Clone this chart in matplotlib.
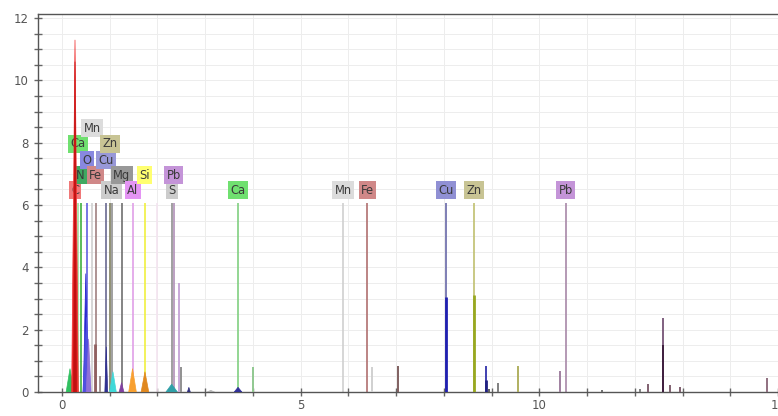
import matplotlib
matplotlib.use('Agg')
import matplotlib.pyplot as plt
from matplotlib.ticker import MultipleLocator

# ---- element marker lines (energy keV) with labels ----
marker_labels = ['C', 'N', 'Ca', 'O', 'Mn', 'Fe', 'Cu', 'Zn', 'Na', 'Mg', 'Al', 'Si', '',
                 'S', 'Pb', 'Ca', 'Mn', 'Fe', 'Cu', 'Zn', 'Pb']
marker_energy = [0.277, 0.392, 0.341, 0.525, 0.637, 0.705, 0.930, 1.012, 1.041, 1.254, 1.487,
                 1.740, 2.000, 2.307, 2.346, 3.690, 5.895, 6.400, 8.040, 8.630, 10.550]
marker_row = [0, 1, 3, 2, 4, 1, 2, 3, 0, 1, 0, 1, 0, 0, 1, 0, 0, 0, 0, 0, 0]
marker_line_color = ['#e03030', '#40b040', '#a0e0a0', '#6060e0', '#d0d0d0', '#a08080',
                     '#6a6a90', '#808060', '#909090', '#707070', '#e0a0e8', '#f0f040',
                     '#f4e4f0', '#909090', '#b090b8', '#80d080', '#d0d0d0', '#b07070',
                     '#6868a8', '#c0c070', '#a888a8']
marker_box_color = ['#f07878', '#40a860', '#70e070', '#8888e0', '#dcdcdc', '#d08888',
                    '#9898d8', '#c8c494', '#cccccc', '#989898', '#e494f4', '#ffff70',
                    '#ffffff', '#cccccc', '#c494d8', '#70e070', '#dcdcdc', '#d08888',
                    '#9090d4', '#c8c494', '#c494d8']
marker_top = 6.05
row_y = [6.48, 6.96, 7.44, 7.96, 8.47]

# ---- spectrum peaks: centre (keV), height (counts), half width (keV), colour ----
peak_center = [0.17, 0.275, 0.275, 0.50, 0.52, 0.56, 0.70, 0.80, 0.93, 1.07, 1.25, 1.48,
               1.74, 2.30, 2.45, 2.49, 2.66, 3.12, 3.69, 4.01, 6.49, 7.04, 8.04, 8.63,
               8.88, 8.88, 8.95, 9.13, 9.55, 10.43, 11.31, 12.10, 12.27, 12.60, 12.60,
               12.73, 12.94, 14.76]
peak_height = [0.75, 11.3, 10.6, 3.8, 2.4, 1.7, 1.55, 0.5, 1.45, 0.65, 0.3, 0.75,
               0.65, 0.25, 3.5, 0.8, 0.15, 0.05, 0.15, 0.8, 0.8, 0.83, 3.05, 3.1,
               0.85, 0.4, 0.1, 0.3, 0.83, 0.68, 0.08, 0.1, 0.25, 2.37, 1.5,
               0.22, 0.15, 0.46]
peak_width = [0.08, 0.07, 0.03, 0.05, 0.08, 0.05, 0.02, 0.01, 0.03, 0.07, 0.05, 0.08,
              0.08, 0.12, 0.01, 0.01, 0.03, 0.08, 0.08, 0.01, 0.01, 0.01, 0.02, 0.02,
              0.01, 0.02, 0.01, 0.01, 0.01, 0.01, 0.01, 0.01, 0.01, 0.01, 0.01,
              0.01, 0.01, 0.01]
peak_color = ['#30c060', '#f03030', '#c01010', '#2828d0', '#5050e0', '#9070d8', '#906060',
              '#a09090', '#303090', '#40d8d8', '#8040a0', '#f8a030', '#e08820', '#30a0a8',
              '#c8a8d8', '#909090', '#303080', '#b0b0b0', '#303098', '#90c890', '#d0d0d0',
              '#806060', '#2020b0', '#98a820', '#4040b0', '#202080', '#606060', '#808080',
              '#b0b060', '#a080a0', '#707070', '#808080', '#806070', '#806080', '#402040',
              '#806070', '#806070', '#907080']

fig = plt.figure(figsize=(7.78, 4.16), dpi=100)
ax = fig.add_axes([38 / 778, (416 - 392) / 416, 740 / 778, (392 - 14) / 416])
ax.set_xlim(-0.5, 15.0)
ax.set_ylim(0, 12.13)

# grid
ax.xaxis.set_major_locator(MultipleLocator(5))
ax.xaxis.set_minor_locator(MultipleLocator(1))
ax.yaxis.set_major_locator(MultipleLocator(2))
ax.yaxis.set_minor_locator(MultipleLocator(0.5))
ax.grid(True, which='both', color='#ededed', linewidth=0.7, zorder=0)
ax.set_axisbelow(True)

# marker lines
for e, c in zip(marker_energy, marker_line_color):
    ax.vlines(e, 0, marker_top, colors=c, linewidth=1.2, zorder=2)

# spectrum peaks
for c, h, w, col in zip(peak_center, peak_height, peak_width, peak_color):
    if w <= 0.012:
        ax.vlines(c, 0, h, colors=col, linewidth=1.4, zorder=4)
    elif w <= 0.02:
        ax.vlines(c, 0, h, colors=col, linewidth=2.0, zorder=4)
    else:
        ax.fill([c - w, c, c + w], [0, h, 0], color=col, linewidth=0.5, zorder=4)

# labels
for lab, e, r, bc in zip(marker_labels, marker_energy, marker_row, marker_box_color):
    if not lab:
        continue
    ax.text(e, row_y[r], lab, ha='center', va='center', fontsize=8.3, color='#3a3a3a',
            zorder=3, bbox=dict(boxstyle='square,pad=0.2', fc=bc, ec='none'))

ax.spines['right'].set_visible(False)
for side in ['left', 'top', 'bottom']:
    ax.spines[side].set_color('#555555')
    ax.spines[side].set_linewidth(1.0)

ax.tick_params(axis='both', which='both', direction='inout', length=6, width=1,
               color='#666666', labelsize=8.5, labelcolor='#555555')
ax.tick_params(axis='x', which='both', top=False, pad=2)

fig.savefig('out.png', dpi=100)
